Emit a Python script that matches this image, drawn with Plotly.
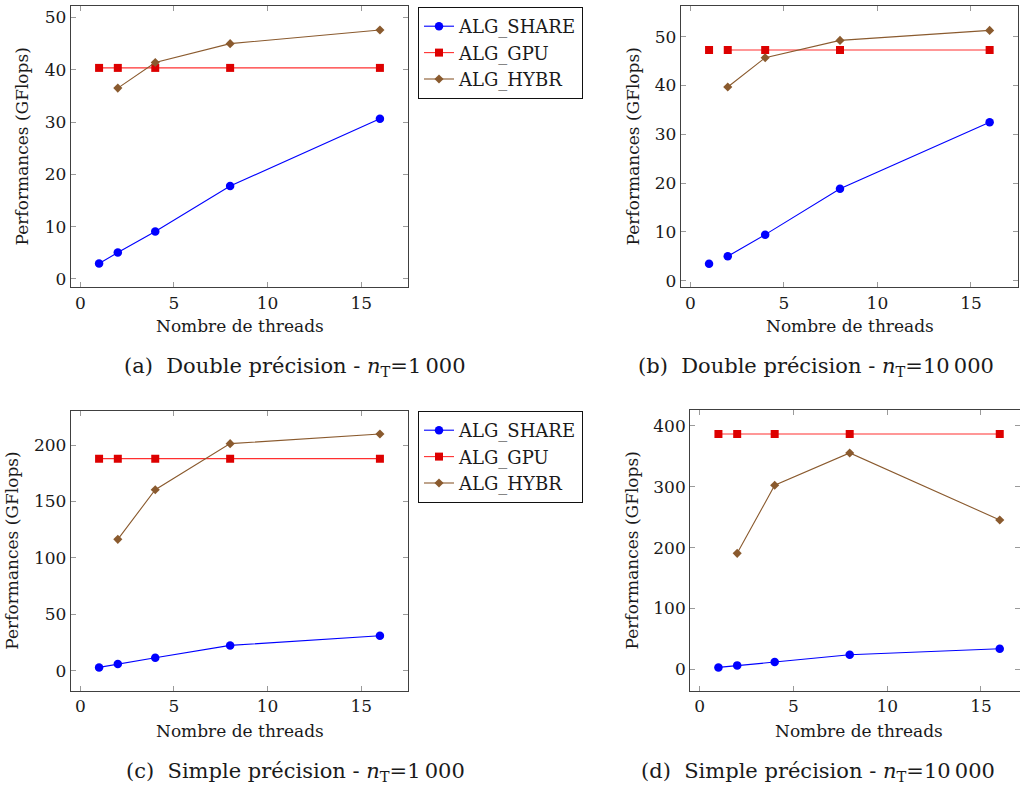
import plotly.graph_objects as go

W, H = 1020, 789

threads = [1, 2, 4, 8, 16]
threads_hybr = [2, 4, 8, 16]

# Panel (a) Double précision, nT = 1000
a_share = [2.94, 5.04, 9.07, 17.75, 30.65]
a_gpu = [40.36, 40.36, 40.36, 40.36, 40.36]
a_hybr = [36.5, 41.4, 45.0, 47.6]

# Panel (b) Double précision, nT = 10000
b_share = [3.48, 4.99, 9.43, 18.85, 32.45]
b_gpu = [47.27, 47.27, 47.27, 47.27, 47.27]
b_hybr = [39.7, 45.7, 49.25, 51.3]

# Panel (c) Simple précision, nT = 1000
c_share = [2.95, 5.9, 11.5, 22.45, 31.0]
c_gpu = [187.9, 187.9, 187.9, 187.9, 187.9]
c_hybr = [116.4, 160.4, 201.2, 209.7]

# Panel (d) Simple précision, nT = 10000
d_share = [3.3, 6.6, 12.05, 24.1, 34.0]
d_gpu = [386.8, 386.8, 386.8, 386.8, 386.8]
d_hybr = [190.7, 302.5, 355.6, 245.5]

series_names = ["ALG_SHARE", "ALG_GPU", "ALG_HYBR"]
captions = [
    "(a)  Double précision - <i>n</i><sub>T</sub>=1\u2009000",
    "(b)  Double précision - <i>n</i><sub>T</sub>=10\u2009000",
    "(c)  Simple précision - <i>n</i><sub>T</sub>=1\u2009000",
    "(d)  Simple précision - <i>n</i><sub>T</sub>=10\u2009000",
]
x_ticks = [0, 5, 10, 15]
y_ticks_ab = [0, 10, 20, 30, 40, 50]
y_ticks_c = [0, 50, 100, 150, 200]
y_ticks_d = [0, 100, 200, 300, 400]

FONT = "DejaVu Serif, Liberation Serif, serif"
TXT = "#1a1a1a"
BLUE = "#0000ff"
RED_LINE = "#ff3030"
RED_MK = "#dd0000"
BROWN = "#8a5a2e"
FRAME = "#404040"
TICKC = "#9a9a9a"


def px(x):
    return x / W


def py(y):
    return (H - y) / H


# pixel boxes: (left, right, top, bottom)
boxes = [
    (71, 408, 6, 287),
    (681, 1017.7, 6, 287),
    (71, 408, 410.7, 690.7),
    (690.3, 1020, 410.3, 690.7),
]
xranges = [[-0.5, 17.5], [-0.5, 17.5], [-0.5, 17.5], [-0.5, 17.08]]
yranges = [[-1.55, 52.2], [-1.3, 56.3], [-17.7, 230.4], [-35.0, 425.7]]
yticks = [y_ticks_ab, y_ticks_ab, y_ticks_c, y_ticks_d]
shares = [a_share, b_share, c_share, d_share]
gpus = [a_gpu, b_gpu, c_gpu, d_gpu]
hybrs = [a_hybr, b_hybr, c_hybr, d_hybr]
# in panel (b) the first point (1 thread) is not joined to the others
first_joined = [0, 1, 0, 0]
legends = ["legend", None, "legend2", None]

fig = go.Figure()

for i in range(4):
    xa = "x" if i == 0 else f"x{i+1}"
    ya = "y" if i == 0 else f"y{i+1}"
    leg = legends[i]
    show = leg is not None
    j = first_joined[i]
    specs = [
        (series_names[0], threads, shares[i], BLUE, BLUE, "circle", 8.5),
        (series_names[1], threads, gpus[i], RED_LINE, RED_MK, "square", 8),
        (series_names[2], threads_hybr, hybrs[i], BROWN, BROWN, "diamond", 7),
    ]
    for name, xs, ys, lc, mc, sym, ms in specs:
        if j > 0 and xs is threads:
            fig.add_trace(go.Scatter(
                x=xs[:j], y=ys[:j], mode="markers", xaxis=xa, yaxis=ya,
                marker=dict(symbol=sym, size=ms, color=mc, line=dict(width=0)),
                showlegend=False, hoverinfo="skip"))
            xs2, ys2 = xs[j:], ys[j:]
        else:
            xs2, ys2 = xs, ys
        kw = dict(legend=leg) if show else {}
        fig.add_trace(go.Scatter(
            x=xs2, y=ys2, mode="lines+markers", name=name, xaxis=xa, yaxis=ya,
            line=dict(color=lc, width=1.1),
            marker=dict(symbol=sym, size=ms, color=mc, line=dict(width=0)),
            showlegend=show, **kw))

layout = dict(
    width=W, height=H,
    margin=dict(l=0, r=0, t=0, b=0),
    paper_bgcolor="white", plot_bgcolor="white",
    font=dict(family=FONT, size=16, color=TXT),
)

for i in range(4):
    l, r, t, b = boxes[i]
    xk = "xaxis" if i == 0 else f"xaxis{i+1}"
    yk = "yaxis" if i == 0 else f"yaxis{i+1}"
    xa = "x" if i == 0 else f"x{i+1}"
    ya = "y" if i == 0 else f"y{i+1}"
    layout[xk] = dict(
        domain=[px(l), px(r)], anchor=ya, range=xranges[i],
        tickvals=x_ticks, ticks="inside", ticklen=5, tickcolor=TICKC, tickwidth=1,
        showline=True, linecolor=FRAME, linewidth=1.3, mirror="allticks",
        showgrid=False, zeroline=False, automargin=False,
        tickfont=dict(family=FONT, size=17, color=TXT),
    )
    layout[yk] = dict(
        domain=[py(b), py(t)], anchor=xa, range=yranges[i],
        tickvals=yticks[i], ticks="inside", ticklen=5, tickcolor=TICKC, tickwidth=1,
        showline=True, linecolor=FRAME, linewidth=1.3, mirror="allticks",
        showgrid=False, zeroline=False, automargin=False,
        tickfont=dict(family=FONT, size=17, color=TXT),
    )

for key, top in (("legend", 7), ("legend2", 411)):
    layout[key] = dict(
        x=px(418), y=py(top), xanchor="left", yanchor="top",
        bgcolor="white", bordercolor="#111111", borderwidth=1,
        font=dict(family=FONT, size=18, color=TXT),
        tracegroupgap=0, itemwidth=30,
    )

annotations = []
ytitle_x = [21, 632, 12, 631]
xtitle_pos = [(240, 326), (850, 326), (240, 731), (859, 731)]
caption_pos = [(295, 367), (816, 367), (295, 772), (818, 772)]
for i in range(4):
    l, r, t, b = boxes[i]
    annotations.append(dict(
        text="Performances (GFlops)", x=px(ytitle_x[i]), y=py((t + b) / 2),
        xref="paper", yref="paper", showarrow=False, textangle=-90,
        xanchor="center", yanchor="middle",
        font=dict(family=FONT, size=17, color=TXT)))
    annotations.append(dict(
        text="Nombre de threads", x=px(xtitle_pos[i][0]), y=py(xtitle_pos[i][1]),
        xref="paper", yref="paper", showarrow=False,
        xanchor="center", yanchor="middle",
        font=dict(family=FONT, size=17, color=TXT)))
    annotations.append(dict(
        text=captions[i], x=px(caption_pos[i][0]), y=py(caption_pos[i][1]),
        xref="paper", yref="paper", showarrow=False,
        xanchor="center", yanchor="middle",
        font=dict(family=FONT, size=21, color=TXT)))
layout["annotations"] = annotations

fig.update_layout(**layout)
fig.write_html("out.html", config={"displayModeBar": False},
               post_script="document.body.style.margin='0';")
